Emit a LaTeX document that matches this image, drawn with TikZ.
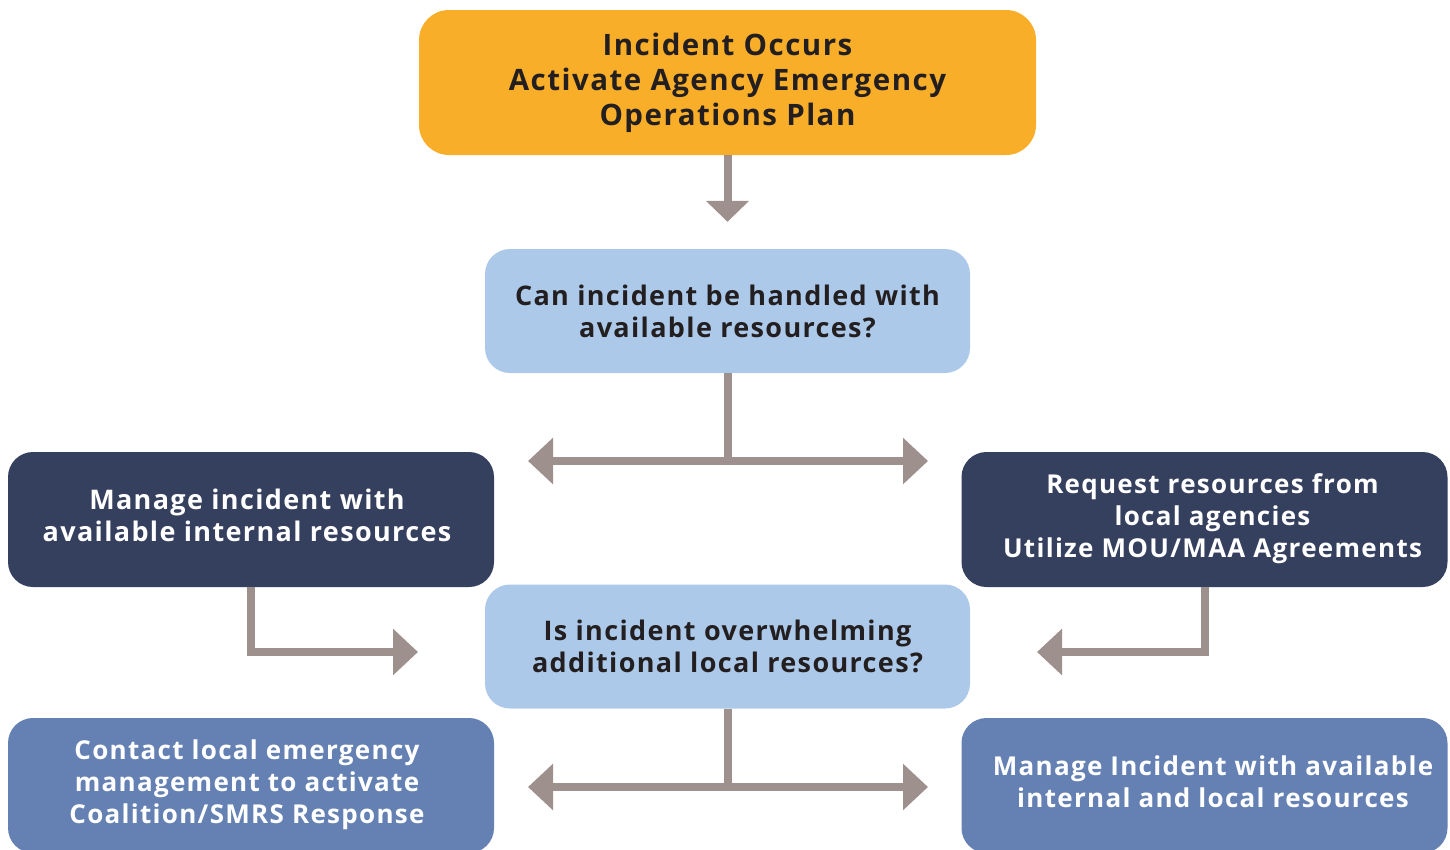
\documentclass[tikz,border=0pt]{standalone}
\usepackage{fontspec}
\setmainfont{Open Sans}
\newfontfamily\boxfont{Open Sans}[LetterSpace=5]
\usetikzlibrary{arrows.meta}
\definecolor{orangec}{HTML}{F9AE29}
\definecolor{lightb}{HTML}{ADC9E9}
\definecolor{navyc}{HTML}{353F5E}
\definecolor{medb}{HTML}{6581B3}
\definecolor{arrowc}{HTML}{9E918D}
\definecolor{textd}{HTML}{231F20}
\newcommand\padleft[2]{\hspace*{#1}\begin{tabular}{@{}c@{}}#2\end{tabular}}
\newcommand\padright[2]{\begin{tabular}{@{}c@{}}#2\end{tabular}\hspace*{#1}}
\tikzset{
  box/.style={rounded corners=25pt, inner sep=0pt, align=center,
    font=\boxfont\bfseries\fontsize{27}{32}\selectfont},
  topbox/.style={box, fill=orangec, text=textd, rounded corners=30pt,
    minimum width=617pt, minimum height=145pt,
    font=\boxfont\bfseries\fontsize{29.5}{35}\selectfont},
  qbox/.style={box, fill=lightb, text=textd, minimum width=485pt, minimum height=124pt},
  navybox/.style={box, fill=navyc, text=white, minimum width=486pt, minimum height=135pt},
  medbox/.style={box, fill=medb, text=white, minimum width=486pt, minimum height=135pt},
  smaller/.style={font=\boxfont\bfseries\fontsize{26}{32}\selectfont},
  arr/.style={draw=arrowc, line width=8pt, -{Triangle[length=25pt,width=45pt]}},
  darr/.style={draw=arrowc, line width=8pt, {Triangle[length=25pt,width=45pt]}-{Triangle[length=25pt,width=45pt]}},
  seg/.style={draw=arrowc, line width=8pt}
}
\begin{document}
\begin{tikzpicture}[x=1pt,y=-1pt]
\useasboundingbox (0,0) rectangle (1450,849);
\node[topbox] (b1) at (727.5,82.5) {Incident Occurs\\Activate Agency Emergency\\Operations Plan};
\node[qbox] (b2) at (727.5,311) {Can incident be handled with\\available resources?};
\node[navybox] (b3) at (251,519.5) {\padright{8pt}{Manage incident with\\available internal resources}};
\node[navybox, smaller] (b4) at (1204.5,519.5) {\padleft{16pt}{Request resources from\\local agencies\\Utilize MOU/MAA Agreements}};
\node[qbox] (b5) at (727.5,646.5) {Is incident overwhelming\\additional local resources?};
\node[medbox, smaller] (b6) at (251,785.5) {\padright{8pt}{Contact local emergency\\management to activate\\Coalition/SMRS Response}};
\node[medbox, smaller] (b7) at (1204.5,785.5) {\padleft{17pt}{Manage Incident with available\\internal and local resources}};

\coordinate (j1) at (727.5,461);
\coordinate (l1) at (528,461);
\coordinate (r1) at (928,461);
\coordinate (j2) at (727.5,787);
\coordinate (l2) at (528,787);
\coordinate (r2) at (928,787);
\coordinate (e1) at (418,652);
\coordinate (e2) at (1037,652);

\draw[arrowc, line width=8pt, -{Triangle[length=21pt,width=42pt]}, shorten >=27pt] (b1.south) -- (b2.north);
\draw[seg] (b2.south) -- ([yshift=2pt]j1);
\draw[darr] (l1) -- (r1);
\draw[arr] (b3.south) |- (e1);
\draw[arr] (b4.south) |- (e2);
\draw[seg] (b5.south) -- ([yshift=2pt]j2);
\draw[darr] (l2) -- (r2);
\end{tikzpicture}
\end{document}
